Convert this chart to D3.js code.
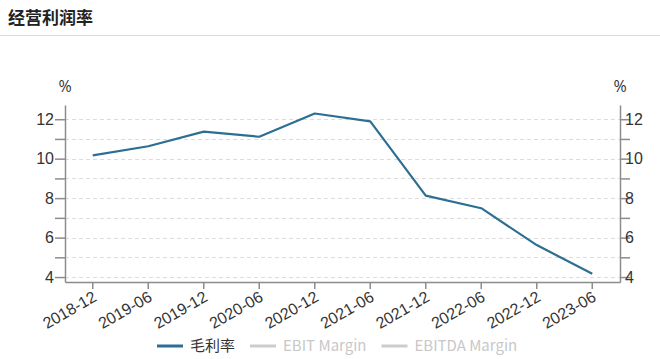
<!DOCTYPE html>
<html>
<head>
<meta charset="utf-8">
<script src="https://cdn.jsdelivr.net/npm/d3@7"></script>
<style>
    body { margin: 0; background: #fff; }
    svg { display: block; font-family: "Open Sans", "Noto Sans CJK SC", sans-serif; }
</style>
</head>
<body>
<div id="chart"></div>
<script>
// periods on the x axis
var periods = ["2018-12", "2019-06", "2019-12", "2020-06", "2020-12",
    "2021-06", "2021-12", "2022-06", "2022-12", "2023-06"];
// 毛利率 (%)
var grossMargin = [10.17, 10.63, 11.37, 11.11, 12.29, 11.89, 8.13, 7.49, 5.62, 4.17];
var yTicks = [4, 5, 6, 7, 8, 9, 10, 11, 12];
var legendNames = ["毛利率", "EBIT Margin", "EBITDA Margin"];
var legendColors = ["#2c6f93", "#cccccc", "#cccccc"];

var width = 660, height = 359;
var margin = {top: 105, right: 40, bottom: 77, left: 65};

var svg = d3.select("#chart").append("svg")
    .attr("width", width)
    .attr("height", height);

// title + separator
svg.append("text")
    .attr("x", 8)
    .attr("y", 24)
    .attr("font-family", "'Noto Sans CJK SC', sans-serif")
    .attr("font-size", 17)
    .attr("font-weight", "bold")
    .attr("fill", "#222")
    .text("经营利润率");

svg.append("line")
    .attr("x1", 0).attr("x2", width)
    .attr("y1", 35.5).attr("y2", 35.5)
    .attr("stroke", "#d9d9d9");

var x = d3.scaleBand()
    .domain(periods)
    .range([margin.left, width - margin.right]);

var y = d3.scaleLinear()
    .domain([3.75, 12.72])
    .range([height - margin.bottom, margin.top]);

// grid
svg.append("g").selectAll("line")
    .data(yTicks)
    .enter().append("line")
    .attr("x1", margin.left).attr("x2", width - margin.right)
    .attr("y1", function(d) { return Math.round(y(d)) + 0.5; })
    .attr("y2", function(d) { return Math.round(y(d)) + 0.5; })
    .attr("stroke", "#dcdcdc")
    .attr("stroke-dasharray", "4,3");

function styleAxis(g) {
    g.select(".domain").attr("stroke", "#8c8c8c").attr("stroke-width", 1.5);
    g.selectAll(".tick line").attr("stroke", "#8c8c8c").attr("stroke-width", 1.5);
    g.selectAll(".tick text").attr("fill", "#333").attr("font-size", 16);
}

var yFormat = function(d) { return d % 2 === 0 ? d : ""; };

var leftAxis = svg.append("g")
    .attr("transform", "translate(" + margin.left + ",0)")
    .call(d3.axisLeft(y).tickValues(yTicks).tickFormat(yFormat)
        .tickSize(10).tickSizeOuter(0).tickPadding(1));
styleAxis(leftAxis);

var rightAxis = svg.append("g")
    .attr("transform", "translate(" + (width - margin.right) + ",0)")
    .call(d3.axisRight(y).tickValues(yTicks).tickFormat(yFormat)
        .tickSize(10).tickSizeOuter(0).tickPadding(-5));
styleAxis(rightAxis);

var bottomAxis = svg.append("g")
    .attr("transform", "translate(0," + (height - margin.bottom) + ")")
    .call(d3.axisBottom(x).tickSize(7).tickSizeOuter(0));
styleAxis(bottomAxis);
bottomAxis.selectAll(".tick text")
    .attr("font-size", 16)
    .attr("text-anchor", "end")
    .attr("dy", 0)
    .attr("transform", "translate(5,18) rotate(-30)")
    .attr("y", 0)
    .attr("x", 0);

// % units
[margin.left, width - margin.right].forEach(function(px) {
    svg.append("text")
        .attr("x", px)
        .attr("y", 92)
        .attr("text-anchor", "middle")
        .attr("font-size", 16)
        .attr("fill", "#333")
        .text("%");
});

// line
var line = d3.line()
    .x(function(d, i) { return x(periods[i]) + x.bandwidth() / 2; })
    .y(function(d) { return y(d); });

svg.append("path")
    .datum(grossMargin)
    .attr("fill", "none")
    .attr("stroke", legendColors[0])
    .attr("stroke-width", 2.2)
    .attr("stroke-linejoin", "round")
    .attr("d", line);

// legend
var legend = svg.append("g").attr("transform", "translate(157,346)");
var lx = 0;
legendNames.forEach(function(name, i) {
    legend.append("line")
        .attr("x1", lx).attr("x2", lx + 26)
        .attr("y1", 0).attr("y2", 0)
        .attr("stroke", legendColors[i])
        .attr("stroke-width", 3);
    var t = legend.append("text")
        .attr("x", lx + 33)
        .attr("y", 5)
        .attr("font-size", 15)
        .attr("font-family", "'Noto Sans CJK SC', sans-serif")
        .attr("fill", i === 0 ? "#333" : "#c8c8c8")
        .text(name);
    lx += 33 + t.node().getComputedTextLength() + 15;
});
</script>
</body>
</html>
